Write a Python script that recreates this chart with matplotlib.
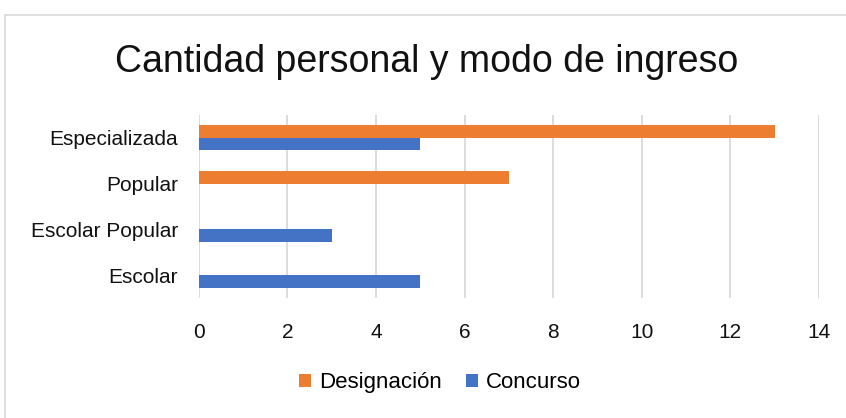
import matplotlib.pyplot as plt
import numpy as np
from matplotlib.lines import Line2D

plt.rcParams['font.family'] = ['Liberation Sans', 'DejaVu Sans']

# datos
categorias = ["Escolar", "Escolar Popular", "Popular", "Especializada"]
designacion = [0, 0, 7, 13]
concurso = [5, 3, 0, 5]
ticks_x = [0, 2, 4, 6, 8, 10, 12, 14]

naranja = "#ED7D31"
azul = "#4472C4"

fig = plt.figure(figsize=(8.46, 4.18), dpi=100)
ax = fig.add_axes([0.235, 0.287, 0.733, 0.438])

y = np.arange(len(categorias))
h = 0.27
ax.barh(y + h / 2, designacion, height=h, color=naranja, label="Designación", zorder=3)
ax.barh(y - h / 2, concurso, height=h, color=azul, label="Concurso", zorder=3)

ax.set_xlim(0, 14)
ax.set_ylim(-0.5, 3.5)
ax.set_xticks(ticks_x)
ax.set_yticks(y)
ax.set_yticklabels(categorias)
ax.tick_params(axis="both", length=0, labelsize=15, colors="#111111")
ax.tick_params(axis="y", pad=15)
ax.tick_params(axis="x", pad=18)
ax.xaxis.grid(True, color="#D9D9D9", linewidth=1.3, zorder=0)
for s in ax.spines.values():
    s.set_visible(False)

fig.text(0.504, 0.852, "Cantidad personal y modo de ingreso", ha="center", va="center",
         fontsize=27, color="#111111")

ax.legend(loc="center", bbox_to_anchor=(0.52, 0.084), bbox_transform=fig.transFigure,
          ncol=2, frameon=False, fontsize=16, handlelength=0.55, handleheight=0.55,
          handletextpad=0.35, columnspacing=1.1)

# marco del grafico
fig.add_artist(Line2D([5 / 846, 1], [1 - 15 / 418, 1 - 15 / 418], color="#D9D9D9", lw=1.2,
                      transform=fig.transFigure))
fig.add_artist(Line2D([5 / 846, 5 / 846], [0, 1 - 15 / 418], color="#D9D9D9", lw=1.2,
                      transform=fig.transFigure))

fig.savefig("out.png", dpi=100)
